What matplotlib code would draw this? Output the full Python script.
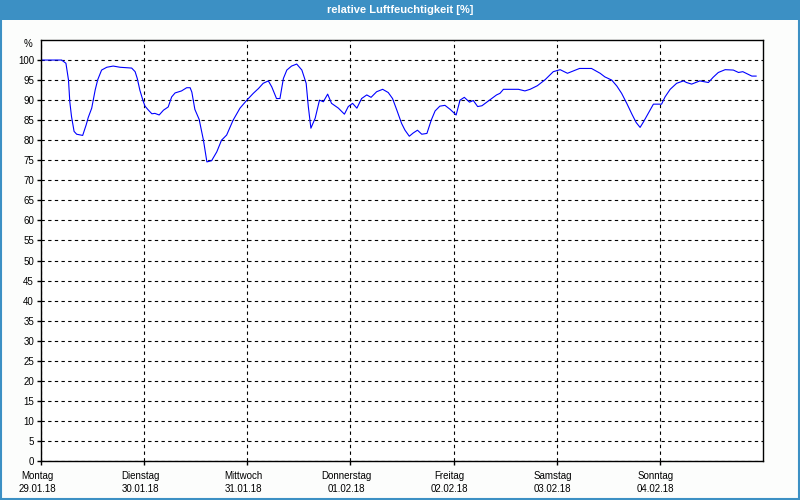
import matplotlib
matplotlib.use('Agg')
from matplotlib import pyplot as plt
from matplotlib.patches import Rectangle
from matplotlib.transforms import ScaledTranslation

# hours since Monday 29.01.18 00:00, relative humidity in %
hours = [0, 4.8, 5.8, 6.4, 6.7, 7.1, 7.7, 8.3, 9.7, 10.5, 11.0, 11.8, 12.6, 13.2, 14.1,
         15.3, 16.8, 18.4, 21.1, 21.9, 22.4, 23.0, 23.7, 24.2, 25.0, 25.8, 26.5, 27.5,
         28.5, 29.6, 30.4, 31.2, 32.7, 33.9, 34.7, 35.1, 35.8, 36.8, 37.8, 38.6, 39.7,
         40.9, 42.0, 43.2, 44.7, 46.3, 47.9, 49.4, 50.6, 51.7, 52.9, 53.7, 54.8, 55.6,
         56.4, 57.2, 58.3, 59.5, 60.7, 61.7, 62.2, 62.8, 63.8, 64.8, 65.7, 66.7, 67.6,
         69.2, 70.6, 71.5, 72.5, 73.5, 74.6, 75.8, 76.8, 78.1, 79.5, 80.8, 81.8, 82.8,
         83.9, 84.7, 85.7, 86.6, 87.6, 88.6, 89.8, 90.8, 91.7, 92.8, 94.0, 95.2, 96.6,
         97.5, 98.5, 99.7, 100.6, 101.6, 102.6, 104.1, 106.0, 106.8, 107.6, 111.1, 112.6,
         113.8, 115.5, 117.3, 119.2, 120.8, 122.5, 123.9, 125.3, 128.1, 130.1, 131.2,
         132.8, 134.0, 135.1, 136.3, 137.5, 138.5, 139.4, 140.2, 141.3, 142.5, 144.4,
         145.2, 146.4, 147.9, 149.5, 150.2, 151.4, 153.3, 155.3, 156.4, 157.6, 159.2,
         161.1, 162.3, 163.3, 164.6, 165.4, 166.4]
humidity = [100, 100, 99.2, 95, 89.6, 85.9, 82.2, 81.5, 81.2, 83.8, 85.7, 88.0, 92.5, 95.1, 97.5,
            98.2, 98.5, 98.2, 98.0, 97.1, 95.4, 92.5, 90.0, 88.5, 87.5, 86.6, 86.7, 86.3,
            87.5, 88.3, 90.8, 91.8, 92.3, 93.1, 93.1, 92.0, 87.7, 85.2, 80.0, 74.6, 74.9,
            77.1, 80.0, 81.3, 85.0, 88.0, 90.0, 91.7, 92.9, 94.2, 94.8, 93.3, 90.4, 90.4,
            95.4, 97.5, 98.5, 99.0, 97.5, 94.2, 88.4, 83.0, 85.5, 90.0, 89.6, 91.5, 89.2,
            88.0, 86.5, 88.4, 89.2, 88.0, 90.4, 91.3, 90.7, 92.1, 92.7, 91.9, 90.4, 87.5,
            84.2, 82.5, 81.0, 81.8, 82.5, 81.5, 81.7, 85.0, 87.3, 88.5, 88.7, 87.7, 86.3,
            90.0, 90.7, 89.5, 89.9, 88.4, 88.6, 89.8, 91.3, 91.7, 92.7, 92.7, 92.3,
            92.7, 93.6, 95.1, 97.1, 97.6, 96.7, 97.3, 97.9, 97.9, 96.7, 95.8,
            95.0, 93.5, 91.7, 89.2, 86.5, 84.4, 83.2, 84.6, 86.7, 89.0, 89.0,
            90.8, 92.7, 94.2, 94.8, 94.4, 94.0, 94.8, 94.4, 95.7, 96.9, 97.6,
            97.5, 96.9, 97.1, 96.4, 96.0, 96.0]

days = ['Montag', 'Dienstag', 'Mittwoch', 'Donnerstag', 'Freitag', 'Samstag', 'Sonntag']
dates = ['29.01.18', '30.01.18', '31.01.18', '01.02.18', '02.02.18', '03.02.18', '04.02.18']

plt.rcParams['font.family'] = ['Liberation Sans', 'DejaVu Sans']

fig = plt.figure(figsize=(8, 5), dpi=100)
fig.patch.set_facecolor('#fcfdfc')

# title bar and blue frame
fig.patches.append(Rectangle((0, 1 - 20 / 500), 1, 20 / 500, transform=fig.transFigure,
                             facecolor='#3c90c4', edgecolor='none', zorder=0))
fig.patches.append(Rectangle((0.001, 0.002), 0.998, 0.997, transform=fig.transFigure,
                             facecolor='none', edgecolor='#3c90c4', linewidth=1.5, zorder=1))
fig.text(0.5, 1 - 10 / 500, 'relative Luftfeuchtigkeit [%]', color='white',
         ha='center', va='center', fontsize=8, fontweight='bold')

ax = fig.add_axes([41 / 800, 1 - 461 / 500, 722 / 800, 421 / 500])
ax.set_facecolor('white')
ax.plot([h / 24 for h in hours], humidity, color='#0000ff', linewidth=0.8)

ax.set_xlim(0, 7)
ax.set_ylim(0, 105)
ax.set_yticks(range(0, 101, 5))
ax.set_yticklabels([str(v) for v in range(0, 101, 5)], fontsize=7)
ax.set_xticks(range(7))
ax.set_xticklabels([d + '\n' + t for d, t in zip(days, dates)], fontsize=7, linespacing=1.45)
ax.tick_params(axis='both', length=3, width=1, color='black', pad=2)
ax.tick_params(axis='x', pad=4)
# labels sit a little left of their tick in the original
shift = ScaledTranslation(-4 / 100, 0, fig.dpi_scale_trans)
for lbl in ax.get_xticklabels():
    lbl.set_transform(lbl.get_transform() + shift)
ax.text(-0.012, 104, '%', transform=ax.get_yaxis_transform(), ha='right', va='center', fontsize=7)

ax.grid(True, color='black', linestyle=(0, (3, 3)), linewidth=0.8)
for s in ax.spines.values():
    s.set_color('black')
    s.set_linewidth(1)

fig.savefig('out.png', dpi=100, facecolor=fig.get_facecolor())
